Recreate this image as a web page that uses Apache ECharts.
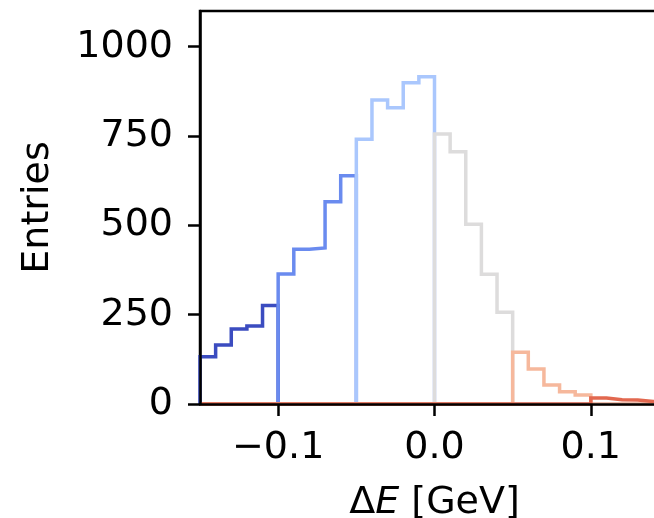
<!DOCTYPE html>
<html>
<head>
<meta charset="utf-8">
<script src="https://cdn.jsdelivr.net/npm/echarts@6/dist/echarts.min.js"></script>
<style>
  html, body { margin: 0; padding: 0; background: #ffffff; }
  #chart { width: 654px; height: 518px; }
</style>
</head>
<body>
<div id="chart"></div>
<script>
// Histogram of ΔE, 0.01 GeV bins from -0.15 to 0.15, split into six coloured ranges
const binStart = -0.15;
const binWidth = 0.01;
const segmentCounts = [
  [132, 165, 210, 218, 276],   // -0.15 .. -0.10
  [364, 433, 437, 566, 639],   // -0.10 .. -0.05
  [741, 851, 829, 899, 916],   // -0.05 .. 0.00
  [756, 706, 503, 363, 257],   //  0.00 .. 0.05
  [145, 98, 53, 34, 25],       //  0.05 .. 0.10
  [17, 12, 11, 7, 10]          //  0.10 .. 0.15
];
const segmentColors = ['#3b4cc0', '#6a8bef', '#aac7fd', '#dddcdc', '#f6b89c', '#e2684f'];
const xTicks = [-0.1, 0.0, 0.1];
const yTicks = [0, 250, 500, 750, 1000];

const FONT = 'DejaVu Sans';
const FS = 38;
const totalBins = segmentCounts.reduce((n, s) => n + s.length, 0);

// Each range is its own step outline over the full x range (zero outside its bins)
function stepPath(segIndex) {
  const counts = new Array(totalBins).fill(0);
  let offset = 0;
  for (let k = 0; k < segIndex; k++) offset += segmentCounts[k].length;
  segmentCounts[segIndex].forEach((c, i) => { counts[offset + i] = c; });
  const edge = i => +(binStart + i * binWidth).toFixed(4);
  const pts = [[edge(0), 0]];
  counts.forEach((c, i) => {
    pts.push([edge(i), c]);
    pts.push([edge(i + 1), c]);
  });
  pts.push([edge(totalBins), 0]);
  return pts;
}

const series = segmentCounts.map((_, k) => ({
  type: 'line',
  data: stepPath(k),
  showSymbol: false,
  symbol: 'none',
  clip: false,
  lineStyle: { color: segmentColors[k], width: 3.5, join: 'miter', cap: 'butt' },
  z: 2 + k,
  animation: false,
  silent: true
}));

const fmtMinus = v => {
  const s = Number(v).toFixed(1);
  return s.startsWith('-') ? '\u2212' + s.slice(1) : s;
};

const chart = echarts.init(document.getElementById('chart'), null, { renderer: 'canvas' });
chart.setOption({
  backgroundColor: '#ffffff',
  animation: false,
  grid: {
    left: 200, top: 11, width: 469, height: 393,
    containLabel: false,
    outerBoundsMode: 'none',
    show: true, borderColor: '#000000', borderWidth: 2.5, backgroundColor: 'transparent'
  },
  xAxis: {
    type: 'value',
    min: -0.15, max: 0.15,
    z: 20,
    name: '{d|\u0394}{i|E}{d| [GeV]}',
    nameLocation: 'middle',
    nameGap: 80,
    nameTextStyle: {
      rich: {
        d: { fontFamily: FONT, fontSize: FS, color: '#000' },
        i: { fontFamily: FONT, fontSize: FS, fontStyle: 'italic', color: '#000' }
      }
    },
    axisLine: { show: true, onZero: false, lineStyle: { color: '#000', width: 2.5 } },
    axisTick: { show: true, inside: false, length: 12, customValues: xTicks, lineStyle: { color: '#000', width: 2.5 } },
    axisLabel: {
      customValues: xTicks, formatter: fmtMinus, margin: 25,
      fontFamily: FONT, fontSize: FS, color: '#000'
    },
    splitLine: { show: false }
  },
  yAxis: {
    type: 'value',
    min: 0, max: 1100,
    z: 20,
    name: 'Entries',
    nameLocation: 'middle',
    nameRotate: 90,
    nameGap: 143,
    nameTextStyle: { fontFamily: FONT, fontSize: FS, color: '#000' },
    axisLine: { show: true, onZero: false, lineStyle: { color: '#000', width: 2.5 } },
    axisTick: { show: true, inside: false, length: 12, customValues: yTicks, lineStyle: { color: '#000', width: 2.5 } },
    axisLabel: {
      customValues: yTicks, margin: 27, formatter: v => String(v),
      fontFamily: FONT, fontSize: FS, color: '#000'
    },
    splitLine: { show: false }
  },
  series: series
});
</script>
</body>
</html>
